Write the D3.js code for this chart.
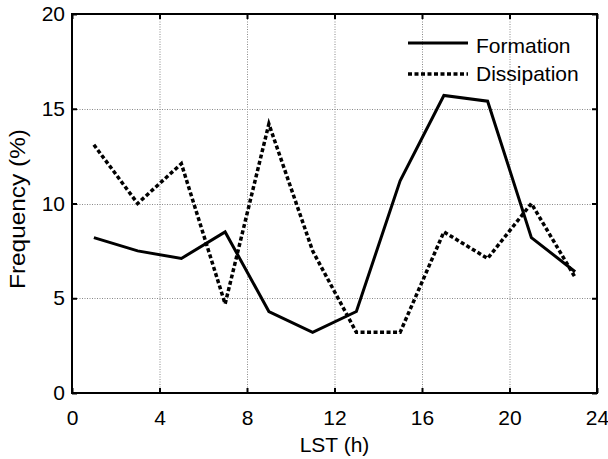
<!DOCTYPE html>
<html>
<head>
<meta charset="utf-8">
<script src="https://cdn.jsdelivr.net/npm/d3@7"></script>
<style>
  html, body { margin: 0; padding: 0; background: #fff; }
  svg { display: block; font-family: "Liberation Sans", Arial, sans-serif; }
</style>
</head>
<body>
<svg id="chart" width="608" height="459"></svg>
<script>
const hours = [1, 3, 5, 7, 9, 11, 13, 15, 17, 19, 21, 23];
const formation = [8.2, 7.5, 7.1, 8.5, 4.3, 3.2, 4.3, 11.2, 15.7, 15.4, 8.2, 6.4];
const dissipation = [13.1, 10.0, 12.1, 4.7, 14.2, 7.5, 3.2, 3.2, 8.5, 7.1, 10.0, 6.1];
const xTicks = [0, 4, 8, 12, 16, 20, 24];
const yTicks = [0, 5, 10, 15, 20];
const seriesNames = ["Formation", "Dissipation"];

const svg = d3.select("#chart");
const L = 72, R = 597, T = 14, B = 393;
const x = d3.scaleLinear().domain([0, 24]).range([L, R]);
const y = d3.scaleLinear().domain([0, 20]).range([B, T]);

// grid
const grid = svg.append("g").attr("stroke", "#888").attr("stroke-width", 1).attr("stroke-dasharray", "1,1.5");
grid.selectAll("line.gx").data(xTicks.filter(d => d > 0 && d < 24)).enter().append("line")
  .attr("x1", d => x(d) + 0.5).attr("x2", d => x(d) + 0.5).attr("y1", T).attr("y2", B);
grid.selectAll("line.gy").data(yTicks.filter(d => d > 0 && d < 20)).enter().append("line")
  .attr("y1", d => Math.round(y(d)) + 0.5).attr("y2", d => Math.round(y(d)) + 0.5).attr("x1", L).attr("x2", R);

// axes
const fs = 21;
const xAxis = svg.append("g").attr("transform", `translate(0,${B})`)
  .call(d3.axisBottom(x).tickValues(xTicks).tickSize(-5).tickPadding(17).tickFormat(d3.format("d")));
const xTop = svg.append("g").attr("transform", `translate(0,${T})`)
  .call(d3.axisTop(x).tickValues(xTicks).tickSize(-5).tickFormat(""));
const yAxis = svg.append("g").attr("transform", `translate(${L},0)`)
  .call(d3.axisLeft(y).tickValues(yTicks).tickSize(-5).tickPadding(7).tickFormat(d3.format("d")));
const yRight = svg.append("g").attr("transform", `translate(${R},0)`)
  .call(d3.axisRight(y).tickValues(yTicks).tickSize(-5).tickFormat(""));
[xAxis, xTop, yAxis, yRight].forEach(g => {
  g.select(".domain").remove();
  g.selectAll(".tick line").attr("stroke", "#000").attr("stroke-width", 2);
  g.selectAll("text").attr("font-size", fs).attr("fill", "#000")
    .attr("font-family", "Liberation Sans, Arial, sans-serif");
});

// frame
svg.append("rect").attr("x", L).attr("y", T).attr("width", R - L).attr("height", B - T)
  .attr("fill", "none").attr("stroke", "#000").attr("stroke-width", 2);

// lines
const line = d3.line().x((d, i) => x(hours[i])).y(d => y(d));
svg.append("path").datum(formation).attr("d", line)
  .attr("fill", "none").attr("stroke", "#000").attr("stroke-width", 3).attr("stroke-linejoin", "miter");
svg.append("path").datum(dissipation).attr("d", line)
  .attr("fill", "none").attr("stroke", "#000").attr("stroke-width", 3.5).attr("stroke-dasharray", "4,2.5");

// axis labels
svg.append("text").attr("x", (L + R) / 2).attr("y", 452).attr("text-anchor", "middle")
  .attr("font-size", fs).text("LST (h)");
svg.append("text").attr("transform", `translate(25,209) rotate(-90)`)
  .attr("text-anchor", "middle").attr("font-size", 22)
  .attr("textLength", 160).attr("lengthAdjust", "spacingAndGlyphs").text("Frequency (%)");

// legend
const leg = svg.append("g");
const legY = [43, 74];
const legBase = [52.5, 81];
seriesNames.forEach((name, i) => {
  const l = leg.append("line").attr("x1", 408).attr("x2", 468).attr("y1", legY[i]).attr("y2", legY[i])
    .attr("stroke", "#000").attr("stroke-width", i === 0 ? 3 : 3.5);
  if (i === 1) l.attr("stroke-dasharray", "4,2.5");
  leg.append("text").attr("x", 476).attr("y", legBase[i]).attr("font-size", fs).text(name);
});
</script>
</body>
</html>
